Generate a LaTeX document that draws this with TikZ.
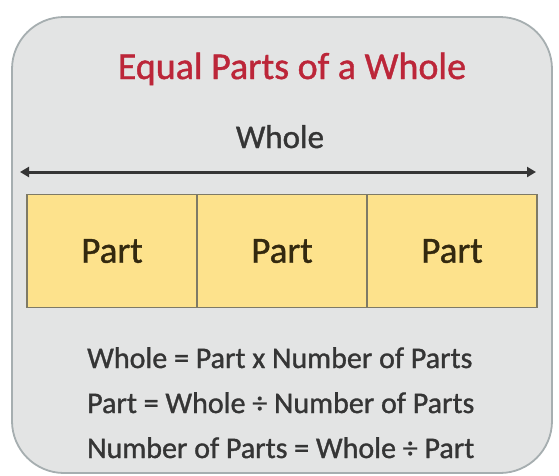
\documentclass[tikz,border=0pt]{standalone}
\usepackage{fontspec}
\setmainfont{Carlito}[BoldFont=Carlito, BoldFeatures={FakeBold=1.1}]
\usetikzlibrary{arrows.meta}
\definecolor{panelfill}{HTML}{E3E4E4}
\definecolor{paneldraw}{HTML}{A6AEB0}
\definecolor{titlered}{HTML}{BC2639}
\definecolor{inkgray}{HTML}{353535}
\definecolor{partfill}{HTML}{FDE28C}
\definecolor{partdraw}{HTML}{7E7A66}
\definecolor{partink}{HTML}{33290F}
\tikzset{
  panel/.style={fill=panelfill, draw=paneldraw, line width=1.8pt, rounded corners=52pt},
  titletext/.style={anchor=base, text=titlered, font=\fontsize{38}{44}\selectfont\bfseries, inner sep=0pt},
  wholetext/.style={anchor=base, text=inkgray, font=\fontsize{33}{40}\selectfont\bfseries, inner sep=0pt},
  partbox/.style={fill=partfill, draw=partdraw, line width=1.6pt, minimum width=170pt, minimum height=113pt, inner sep=0pt, text=partink, font=\fontsize{37}{44}\selectfont\bfseries},
  formula/.style={anchor=base west, text=inkgray, font=\fontsize{30}{36}\selectfont\bfseries, inner sep=0pt},
  wholearrow/.style={draw=inkgray, line width=3pt, {Triangle[length=9pt,width=10pt]}-{Triangle[length=9pt,width=10pt]}}
}
\begin{document}
\begin{tikzpicture}[x=1pt,y=-1pt]
\useasboundingbox (0,0) rectangle (559,475);
\fill[white] (0,0) rectangle (559,475);
\draw[panel] (12,17) rectangle (552,473);
\node[titletext] (title) at (292,79) {Equal Parts of a Whole};
\node[wholetext] (whole) at (280,148) {Whole};
\coordinate (aL) at (20,172);
\coordinate (aR) at (536,172);
\draw[wholearrow] (aL) -- (aR);
\node[partbox] (p1) at (112,251) {Part};
\node[partbox] (p2) at (282,251) {Part};
\node[partbox] (p3) at (452,251) {Part};
\node[formula] (f1) at (87,368) {Whole = Part x Number of Parts};
\node[formula] (f2) at (87,413) {Part = Whole ÷ Number of Parts};
\node[formula] (f3) at (87,458) {Number of Parts = Whole ÷ Part};
\end{tikzpicture}
\end{document}
